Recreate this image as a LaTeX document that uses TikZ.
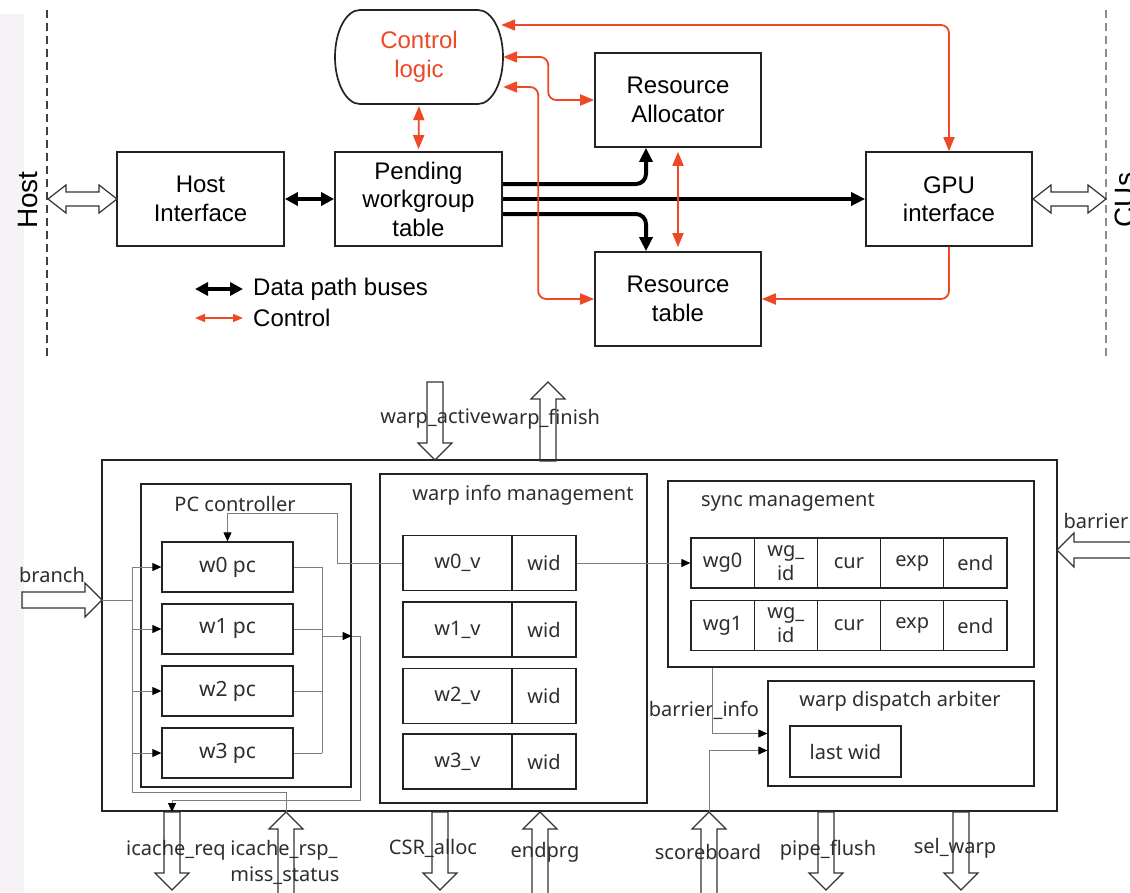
\documentclass[tikz,border=0pt]{standalone}
\usepackage{fontspec}
\setmainfont{Liberation Sans}
\newfontfamily\lowfamily{Noto Sans}
\usetikzlibrary{arrows.meta}

\definecolor{ctlred}{RGB}{238,72,38}
\definecolor{boxgray}{RGB}{35,35,35}
\definecolor{wiregray}{RGB}{125,125,125}
\definecolor{stripcol}{RGB}{246,243,247}

\tikzset{
  topfont/.style={font=\fontsize{24}{28.5}\selectfont},
  lowfont/.style={font=\lowfamily\fontsize{20}{24}\selectfont, text=black!82},
  topbox/.style={draw=boxgray, line width=1.7pt, topfont, align=center, inner sep=0pt,
                 minimum width=166pt, minimum height=94pt},
  lowbox/.style={draw=boxgray, line width=1.3pt, lowfont, align=center, inner sep=0pt},
  bus/.style={line width=4pt, -{Triangle[length=14pt,width=13pt]}},
  busboth/.style={line width=4pt, {Triangle[length=13pt,width=13pt]}-{Triangle[length=13pt,width=13pt]}},
  ctl/.style={draw=ctlred, line width=1.8pt, rounded corners=8pt,
              {Triangle[length=14pt,width=11pt]}-{Triangle[length=14pt,width=11pt]}},
  ctlone/.style={draw=ctlred, line width=1.8pt, rounded corners=8pt, -{Triangle[length=14pt,width=11pt]}},
  wire/.style={draw=wiregray, line width=1pt},
  wtip/.style={-{Triangle[length=9pt,width=8pt,color=black]}},
  blkline/.style={draw=black!80, line width=1.2pt},
  pics/blkarrow/.style={code={
    \draw[blkline] (0,-8) -- ({#1-17},-8) -- ({#1-17},-17) -- (#1,0)
       -- ({#1-17},17) -- ({#1-17},8) -- (0,8) -- cycle;
  }},
  pics/dblarrow/.style={code={
    \draw[blkline] (0,0) -- (18,-14) -- (18,-7) -- ({#1-18},-7) -- ({#1-18},-14) -- (#1,0)
       -- ({#1-18},14) -- ({#1-18},7) -- (18,7) -- (18,14) -- cycle;
  }},
}

\begin{document}
\begin{tikzpicture}[x=1pt,y=-1pt]
% canvas
\fill[white] (0,0) rectangle (1130,892);
\fill[stripcol] (0,14) rectangle (24,892);
\useasboundingbox (0,0) rectangle (1130,892);

% ================= workgroup dispatcher =================
\draw[black!75, line width=1.3pt, dash pattern=on 8pt off 5pt] (47,10) -- (47,356);
\draw[black!45, line width=1.2pt, dash pattern=on 8pt off 5pt] (1106,10) -- (1106,356);
\node[font=\fontsize{28}{30}\selectfont, rotate=90, anchor=base] (hostlbl) at (37,200) {Host};
\node[font=\fontsize{28}{30}\selectfont, rotate=90, anchor=base] (cuslbl) at (1134,200) {CUs};

\node[topbox, minimum width=167pt] (hostif) at (200.5,199) {Host\\Interface};
\node[topbox, minimum width=167pt] (pending) at (418.5,199) {Pending\\workgroup\\table};
\node[topbox] (ralloc) at (678,100) {Resource\\Allocator};
\node[topbox] (rtable) at (678,299) {Resource\\table};
\node[topbox] (gpuif) at (949,199) {GPU\\interface};

% control logic: flat top and bottom, elliptic sides
\draw[draw=boxgray, line width=1.7pt] (360,10) -- (478,10)
   arc[start angle=-90, end angle=90, x radius=25, y radius=47] -- (360,104)
   arc[start angle=90, end angle=270, x radius=25, y radius=47] -- cycle;
\node[topfont, text=ctlred, align=center, inner sep=0pt, minimum width=168pt, minimum height=94pt]
   (ctrl) at (419,57) {Control\\logic};

% external links
\pic at (48,199) {dblarrow=69};
\pic at (1033,199) {dblarrow=73};

% data path buses
\draw[busboth] (hostif.east) -- (pending.west);
\draw[bus, rounded corners=10pt] ([shift={(0,-15)}]pending.east) -| ([shift={(-32,0)}]ralloc.south);
\draw[bus] (pending.east) -- (gpuif.west);
\draw[bus, rounded corners=10pt] ([shift={(0,15)}]pending.east) -| ([shift={(-32,0)}]rtable.north);

% control paths
\draw[ctl, shorten <=2pt, shorten >=2pt] (ctrl.south) -- (pending.north);
\draw[ctl] ([shift={(-2,-32)}]ctrl.east) -| (gpuif.north);
\draw[ctl] (ctrl.east) -- ++(45,0) |- (ralloc.west);
\draw[ctl] ([shift={(0,30)}]ctrl.east) -- ++(35,0) |- (rtable.west);
\draw[ctlone] (gpuif.south) |- (rtable.east);
\draw[ctl, shorten <=4pt, shorten >=4pt] (ralloc.south) -- (rtable.north);

% legend
\coordinate (lgA) at (195,289); \coordinate (lgB) at (243,289);
\coordinate (lgC) at (195,318); \coordinate (lgD) at (243,318);
\draw[busboth] (lgA) -- (lgB);
\draw[draw=ctlred, line width=1.5pt, {Triangle[length=10pt,width=8pt]}-{Triangle[length=10pt,width=8pt]}] (lgC) -- (lgD);
\node[topfont, anchor=west, inner sep=0pt] (lgtxt1) at (253,289) {Data path buses};
\node[topfont, anchor=west, inner sep=0pt] (lgtxt2) at (253,318) {Control};

% ================= warp scheduler =================
\node[lowbox, minimum width=955pt, minimum height=351pt] (core) at (579.5,635.5) {};

% PC controller
\node[lowbox, minimum width=210pt, minimum height=303pt] (pcctl) at (246,635.5) {};
\node[lowfont] (pcttl) at (235,504) {PC controller};
\foreach \n/\yy in {0/567,1/629,2/691,3/753}
  \node[lowbox, font=\lowfamily\fontsize{21}{24}\selectfont, minimum width=131pt, minimum height=50pt]
     (pc\n) at (227.5,\yy) {w\n\ pc};

% warp info management
\node[lowbox, minimum width=267pt, minimum height=329pt] (winfo) at (513.5,638.5) {};
\node[lowfont] (winfottl) at (523,495) {warp info management};
\foreach \n/\yy in {0/563,1/629.5,2/696,3/761.5}{
  \node[lowbox, minimum width=109pt, minimum height=55pt] (v\n) at (457.5,\yy) {w\n\_v};
  \node[lowbox, minimum width=64pt, minimum height=55pt] (wid\n) at (544,\yy) {wid};
}

% sync management
\node[lowbox, minimum width=366pt, minimum height=186pt] (sync) at (851,574) {};
\node[lowfont] (syncttl) at (788,502) {sync management};
\foreach \r/\yy in {0/563,1/625.5}{
  \node[lowbox, minimum width=63.2pt, minimum height=50pt] (sy\r0) at (722.6,\yy) {wg\r};
  \node[lowbox, font=\lowfamily\fontsize{20}{24}\selectfont, minimum width=63.2pt, minimum height=50pt] (sy\r1) at (785.8,\yy) {wg\_\\id};
  \node[lowbox, minimum width=63.2pt, minimum height=50pt] (sy\r2) at (849,\yy) {cur};
  \node[lowbox, minimum width=63.2pt, minimum height=50pt] (sy\r3) at (912.2,\yy) {exp};
  \node[lowbox, minimum width=63.2pt, minimum height=50pt] (sy\r4) at (975.4,\yy) {end};
}

% warp dispatch arbiter
\node[lowbox, minimum width=266pt, minimum height=105pt] (arb) at (901,733.5) {};
\node[lowfont] (arbttl) at (900,701) {warp dispatch arbiter};
\node[lowbox, minimum width=111pt, minimum height=51pt] (lastwid) at (845.5,751.5) {last wid};

% ports
\pic[rotate=-90] at (435,382) {blkarrow=78};
\pic[rotate=90] at (548,461) {blkarrow=79};
\pic at (22,600) {blkarrow=80};
\pic[rotate=180] at (1140,550) {blkarrow=83};
\foreach \xx in {172,440,826,961}
  \pic[rotate=-90] at (\xx,812) {blkarrow=78};
\foreach \xx in {286,540,709}
  \pic[rotate=90] at (\xx,900) {blkarrow=88};

\node[lowfont] (lblact) at (436,419) {warp\_active};
\node[lowfont] (lblfin) at (546,419) {warp\_finish};
\node[lowfont] (lblbr) at (52,575) {branch};
\node[lowfont] (lblbar) at (1096,521) {barrier};
\node[lowfont] (lblreq) at (176,850) {icache\_req};
\node[lowfont, align=left, font=\lowfamily\fontsize{20}{26}\selectfont] (lblrsp) at (285,862) {icache\_rsp\_\\miss\_status};
\node[lowfont] (lblcsr) at (433,848) {CSR\_alloc};
\node[lowfont] (lblend) at (545,852) {endprg};
\node[lowfont] (lblsb) at (708,852) {scoreboard};
\node[lowfont] (lblpf) at (828,850) {pipe\_flush};
\node[lowfont] (lblsw) at (955,848) {sel\_warp};
\node[lowfont] (lblbi) at (704,710) {barrier\_info};

% wires
\coordinate (brtip) at (102,600);
\coordinate (rsptip) at (286,812);
\coordinate (reqtop) at (172,812);
\coordinate (sbtip) at (709,812);
\coordinate (busL) at (132,0);
\coordinate (busR) at (322,0);
\coordinate (pcout) at (322,636);
\coordinate (bix) at (712,0);

\draw[wire] (brtip) -- (brtip -| busL);
\draw[wire] (pc0.west -| busL) -- (132,792) -| (rsptip);
\foreach \n in {0,...,3}{
  \draw[wire, wtip] (pc\n.west -| busL) -- (pc\n.west);
  \draw[wire] (pc\n.east) -- (pc\n.east -| busR);
}
\draw[wire] (pc0.east -| busR) -- (pc3.east -| busR);
\draw[wire, wtip] (pcout) -- (pcout -| pcctl.east);
\draw[wire, wtip] (pcout -| pcctl.east) -- (360,636) -- (360,800) -| (reqtop);
\draw[wire, wtip] (v0.west) -| (337,513) -| (pc0.north);
\draw[wire, wtip] (wid0.east) -- (sy00.west);
\draw[wire, wtip] (sync.south -| bix) |- (arb.west);
\draw[wire, wtip] (sbtip) |- ([shift={(0,17)}]arb.west);
\end{tikzpicture}
\end{document}
